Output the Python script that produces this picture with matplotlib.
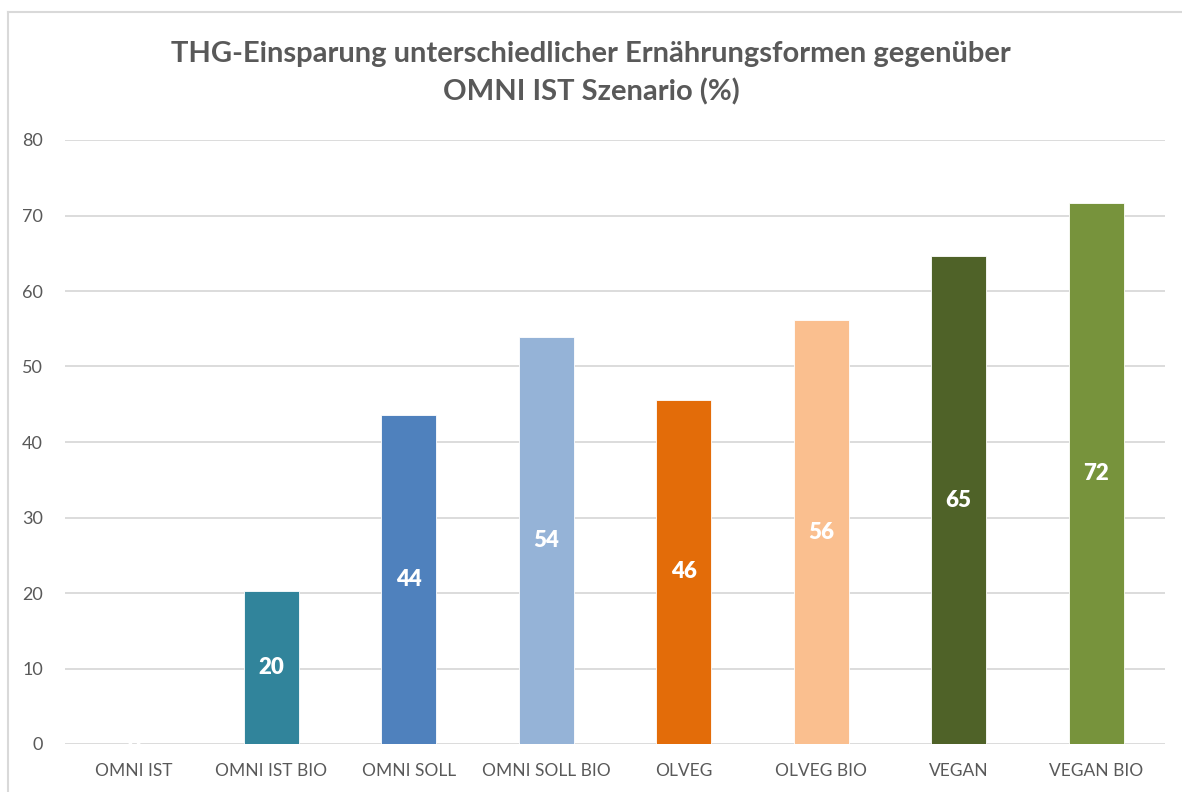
import matplotlib.pyplot as plt
from matplotlib.lines import Line2D

# Scenario names and savings relative to OMNI IST (%)
scenarios = ['OMNI IST', 'OMNI IST BIO', 'OMNI SOLL', 'OMNI SOLL BIO',
             'OLVEG', 'OLVEG BIO', 'VEGAN', 'VEGAN BIO']
savings = [0, 20.2, 43.6, 53.9, 45.6, 56.1, 64.6, 71.6]
colors = ['#31849B', '#31849B', '#4F81BD', '#95B3D7',
          '#E36C09', '#FABF8F', '#4F6228', '#77933C']
yticks = [0, 10, 20, 30, 40, 50, 60, 70, 80]

plt.rcParams['font.family'] = ['Lato', 'DejaVu Sans']

W, H = 1182, 792
fig = plt.figure(figsize=(W / 100, H / 100), dpi=100)
ax = fig.add_axes([65 / W, 1 - 744 / H, 1100 / W, 604 / H])

x = range(len(scenarios))
bars = ax.bar(x, savings, width=0.4, color=colors, edgecolor='#FFFFFF',
              linewidth=0.6, zorder=3)

# value labels in the middle of each bar
for b, v in zip(bars, savings):
    ax.text(b.get_x() + b.get_width() / 2, v / 2, f'{v:.0f}',
            ha='center', va='center', color='white', fontsize=16,
            fontweight='heavy', zorder=4)

ax.set_xlim(-0.5, len(scenarios) - 0.5)
ax.set_ylim(0, 80)
ax.set_yticks(yticks)
ax.set_xticks(list(x))
ax.set_xticklabels(scenarios)
ax.grid(axis='y', color='#D9D9D9', linewidth=1.3, zorder=0)
ax.tick_params(axis='both', length=0, colors='#595959')
ax.tick_params(axis='y', pad=16, labelsize=13)
ax.tick_params(axis='x', pad=14, labelsize=12.5)
for s in ax.spines.values():
    s.set_visible(False)

fig.suptitle('THG-Einsparung unterschiedlicher Ernährungsformen gegenüber\nOMNI IST Szenario (%)',
             y=1 - 41 / H, va='top', fontsize=21, fontweight='bold',
             color='#595959', linespacing=1.5)

# outer chart frame (top and left edges)
fig.add_artist(Line2D([8 / W, 1], [1 - 12 / H, 1 - 12 / H], color='#D9D9D9', lw=1.5))
fig.add_artist(Line2D([8 / W, 8 / W], [0, 1 - 12 / H], color='#D9D9D9', lw=1.5))

fig.savefig('out.png', dpi=100)
